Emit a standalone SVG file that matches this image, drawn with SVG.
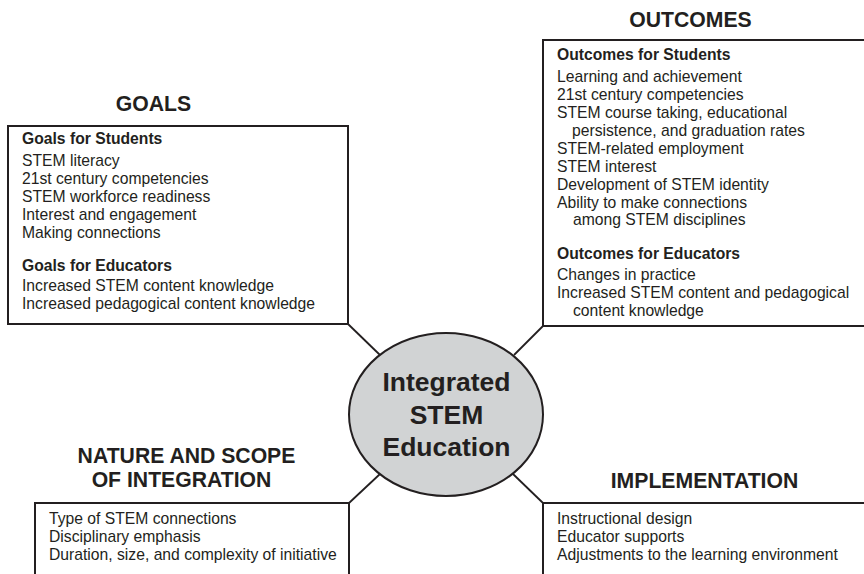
<svg xmlns="http://www.w3.org/2000/svg" width="864" height="574" viewBox="0 0 864 574">
<style>
  text { font-family: "Liberation Sans", Arial, sans-serif; fill: #231f20; }
  .title { font-size: 21.2px; font-weight: bold; text-anchor: middle; }
  .head { font-size: 15.7px; font-weight: bold; }
  .item { font-size: 15.7px; }
  .center { font-size: 26.5px; font-weight: bold; text-anchor: middle; }
  .box { fill: #ffffff; stroke: #231f20; stroke-width: 2; }
  .conn { stroke: #231f20; stroke-width: 1.8; fill: none; }
</style>
<rect width="864" height="574" fill="#ffffff"/>
<g id="connectors">
  <line class="conn" x1="348" y1="324" x2="380" y2="355"/>
  <line class="conn" x1="543" y1="326" x2="514" y2="355"/>
  <line class="conn" x1="380" y1="474" x2="349" y2="503"/>
  <line class="conn" x1="513" y1="474" x2="543" y2="503"/>
</g>
<g id="goals">
  <text class="title" x="153.5" y="111">GOALS</text>
  <rect class="box" x="8" y="126" width="340" height="198"/>
  <text class="head" x="22" y="144">Goals for Students</text>
  <text class="item" x="22" y="166">STEM literacy</text>
  <text class="item" x="22" y="184">21st century competencies</text>
  <text class="item" x="22" y="202">STEM workforce readiness</text>
  <text class="item" x="22" y="220">Interest and engagement</text>
  <text class="item" x="22" y="238">Making connections</text>
  <text class="head" x="22" y="271">Goals for Educators</text>
  <text class="item" x="22" y="291">Increased STEM content knowledge</text>
  <text class="item" x="22" y="309">Increased pedagogical content knowledge</text>
</g>
<g id="outcomes">
  <text class="title" x="690.5" y="27">OUTCOMES</text>
  <rect class="box" x="543" y="40" width="330" height="286"/>
  <text class="head" x="557" y="60">Outcomes for Students</text>
  <text class="item" x="557" y="82">Learning and achievement</text>
  <text class="item" x="557" y="100">21st century competencies</text>
  <text class="item" x="557" y="118">STEM course taking, educational</text>
  <text class="item" x="572" y="136">persistence, and graduation rates</text>
  <text class="item" x="557" y="154">STEM-related employment</text>
  <text class="item" x="557" y="172">STEM interest</text>
  <text class="item" x="557" y="190">Development of STEM identity</text>
  <text class="item" x="557" y="207.5">Ability to make connections</text>
  <text class="item" x="573" y="225">among STEM disciplines</text>
  <text class="head" x="557" y="259">Outcomes for Educators</text>
  <text class="item" x="557" y="280">Changes in practice</text>
  <text class="item" x="557" y="298">Increased STEM content and pedagogical</text>
  <text class="item" x="573" y="316">content knowledge</text>
</g>
<g id="center">
  <ellipse cx="446" cy="414.5" rx="97" ry="81.5" fill="#d1d3d4" stroke="#231f20" stroke-width="2"/>
  <text class="center" x="446.5" y="391">Integrated</text>
  <text class="center" x="446.5" y="424">STEM</text>
  <text class="center" x="446.5" y="456">Education</text>
</g>
<g id="nature">
  <text class="title" x="186.5" y="463">NATURE AND SCOPE</text>
  <text class="title" x="181.5" y="487">OF INTEGRATION</text>
  <rect class="box" x="35" y="503" width="314" height="90"/>
  <text class="item" x="49" y="524">Type of STEM connections</text>
  <text class="item" x="49" y="542">Disciplinary emphasis</text>
  <text class="item" x="49" y="560">Duration, size, and complexity of initiative</text>
</g>
<g id="implementation">
  <text class="title" x="704.5" y="488">IMPLEMENTATION</text>
  <rect class="box" x="543" y="503" width="330" height="90"/>
  <text class="item" x="557" y="524">Instructional design</text>
  <text class="item" x="557" y="542">Educator supports</text>
  <text class="item" x="557" y="560">Adjustments to the learning environment</text>
</g>
</svg>
